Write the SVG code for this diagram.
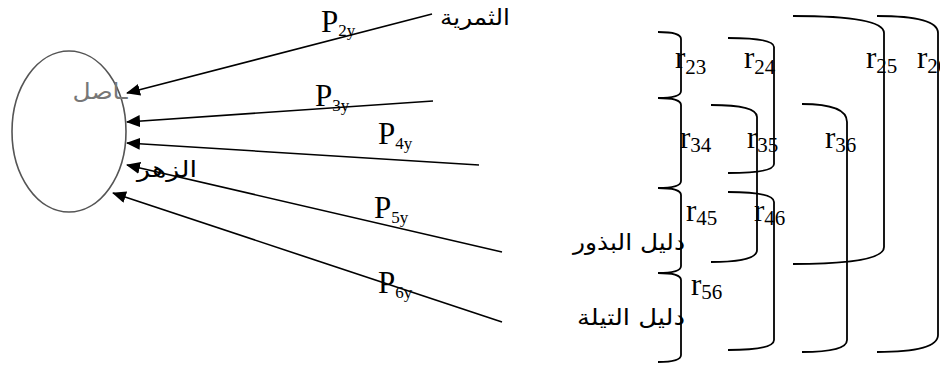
<svg xmlns="http://www.w3.org/2000/svg" width="940" height="365" viewBox="0 0 940 365">
<style>
.ln{stroke:#000;stroke-width:1.6;fill:none}
.br{stroke:#000;stroke-width:1.8;fill:none}
.lat{font-family:"Liberation Serif","Times New Roman",serif;font-size:31px;fill:#000}
.ps{font-size:17px}
.rs{font-size:21px}
.ar{font-family:"DejaVu Sans","Noto Sans",sans-serif;font-size:22px;fill:#000}
</style>
<defs>
<marker id="ah" viewBox="0 0 14 12" refX="13" refY="6" markerWidth="14" markerHeight="12" markerUnits="userSpaceOnUse" orient="auto">
<path d="M0,0 L14,6 L0,12 z" fill="#000"/>
</marker>
</defs>
<rect width="940" height="365" fill="#fff"/>
<g id="yield">
<ellipse cx="69" cy="131.5" rx="57" ry="80.5" fill="none" stroke="#555" stroke-width="1.6"/>
<text class="ar" x="100" y="99" text-anchor="middle" fill="#777" style="fill:#777" textLength="55" lengthAdjust="spacingAndGlyphs">ـاصل</text>
</g>
<g id="connectors">
<line class="ln" x1="432" y1="14" x2="127" y2="93" marker-end="url(#ah)"/>
<line class="ln" x1="433" y1="101" x2="127" y2="122" marker-end="url(#ah)"/>
<line class="ln" x1="479" y1="165" x2="127" y2="143" marker-end="url(#ah)"/>
<line class="ln" x1="502" y1="252" x2="127" y2="165" marker-end="url(#ah)"/>
<line class="ln" x1="502" y1="322" x2="113" y2="193" marker-end="url(#ah)"/>
</g>
<g id="labels-p">
<text class="lat" x="321" y="32">P<tspan class="ps" dy="4">2y</tspan></text>
<text class="lat" x="315" y="106">P<tspan class="ps" dy="5">3y</tspan></text>
<text class="lat" x="378" y="144">P<tspan class="ps" dy="5">4y</tspan></text>
<text class="lat" x="374" y="218">P<tspan class="ps" dy="5">5y</tspan></text>
<text class="lat" x="378" y="293">P<tspan class="ps" dy="5">6y</tspan></text>
</g>
<g id="node-fruit"><text class="ar" x="475" y="25" text-anchor="middle" textLength="70" lengthAdjust="spacingAndGlyphs">الثمرية</text></g>
<g id="node-flower"><text class="ar" x="167" y="177" text-anchor="middle" textLength="60" lengthAdjust="spacingAndGlyphs">الزهر</text></g>
<g id="node-seed"><text class="ar" x="629" y="250" text-anchor="middle" textLength="112" lengthAdjust="spacingAndGlyphs">دليل البذور</text></g>
<g id="node-boll"><text class="ar" x="631" y="325" text-anchor="middle" textLength="108" lengthAdjust="spacingAndGlyphs">دليل التيلة</text></g>
<g id="braces">
<path class="br" d="M658,32 Q681,32 681,39 L681,91 Q681,98 658,98"/>
<path class="br" d="M658,98 Q681,98 681,105 L681,181 Q681,188 658,188"/>
<path class="br" d="M658,188 Q681,188 681,195 L681,266 Q681,273 658,273"/>
<path class="br" d="M658,273 Q681,273 681,280 L681,355 Q681,362 658,362"/>
<path class="br" d="M728,38 Q774,38 774,47 L774,164 Q774,173 728,173"/>
<path class="br" d="M711,105 Q757,105 757,117 L757,250 Q757,262 711,262"/>
<path class="br" d="M728,192 Q774,192 774,202 L774,340 Q774,350 728,350"/>
<path class="br" d="M802,104 Q847,104 847,122 L847,340 Q847,352 802,352"/>
<path class="br" d="M793,16 Q884,16 884,33 L884,247 Q884,264 793,264"/>
<path class="br" d="M877,16 Q938,16 938,33 L938,335 Q938,352 877,352"/>
</g>
<g id="labels-r">
<text class="lat" x="675" y="68">r<tspan class="rs" dy="6">23</tspan></text>
<text class="lat" x="744" y="68">r<tspan class="rs" dy="6">24</tspan></text>
<text class="lat" x="866" y="68">r<tspan class="rs" dy="5">25</tspan></text>
<text class="lat" x="917" y="68">r<tspan class="rs" dy="5">26</tspan></text>
<text class="lat" x="680" y="148">r<tspan class="rs" dy="4">34</tspan></text>
<text class="lat" x="747" y="148">r<tspan class="rs" dy="4">35</tspan></text>
<text class="lat" x="825" y="148">r<tspan class="rs" dy="4">36</tspan></text>
<text class="lat" x="686" y="221">r<tspan class="rs" dy="4">45</tspan></text>
<text class="lat" x="754" y="221">r<tspan class="rs" dy="4">46</tspan></text>
<text class="lat" x="691" y="295">r<tspan class="rs" dy="4">56</tspan></text>
</g>
</svg>
